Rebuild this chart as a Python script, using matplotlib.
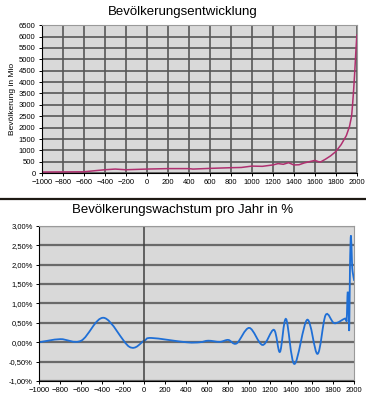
import numpy as np
import matplotlib
matplotlib.use("Agg")
import matplotlib.pyplot as plt
from matplotlib.path import Path
from matplotlib.patches import PathPatch
from matplotlib.lines import Line2D
from matplotlib.ticker import FuncFormatter

plt.rcParams['font.family'] = ['Liberation Sans', 'DejaVu Sans']

# population in millions
pop_years = [-1000, -600, -400, -300, -200, 0, 200, 400, 440, 600, 800, 900,
             1000, 1100, 1200, 1250, 1300, 1350, 1400, 1450, 1500, 1600,
             1650, 1700, 1750, 1800, 1850, 1900, 1930, 1950, 1960, 1970,
             1980, 1990, 2000]
pop_mio = [50, 60, 150, 180, 150, 180, 200, 200, 180, 210, 240, 250,
           310, 300, 360, 420, 390, 460, 360, 370, 450, 560,
           480, 610, 760, 950, 1250, 1650, 2050, 2500, 3050, 3700,
           4450, 5300, 6060]

# growth per year in %
growth_years = [-1000, -800, -600, -385, -140, 0, 70, 400, 530, 610, 720,
                800, 880, 1000, 1127, 1235, 1292, 1350, 1430, 1552, 1650,
                1727, 1810, 1911, 1927, 1937, 1946, 1952, 1959, 1968, 1978,
                1984, 2000]
growth_pct = [0.0, 0.08, 0.04, 0.63, -0.12, 0.04, 0.11, 0.0, 0.0, 0.04, 0.01,
              0.06, -0.03, 0.37, -0.07, 0.32, -0.25, 0.6, -0.56, 0.58, -0.3,
              0.7, 0.49, 0.61, 0.57, 1.29, 0.92, 0.32, 1.95, 2.75, 2.07,
              1.82, 1.58]

BG = '#d9d9d9'


def smooth_path(xs, ys):
    """catmull-rom through the points, as bezier (like excel smoothed lines)"""
    p = np.column_stack([xs, ys]).astype(float)
    verts = [p[0]]
    codes = [Path.MOVETO]
    n = len(p)
    for i in range(n - 1):
        p0 = p[i - 1] if i > 0 else p[i]
        p3 = p[i + 2] if i + 2 < n else p[i + 1]
        c1 = p[i] + (p[i + 1] - p0) / 6
        c2 = p[i + 1] - (p3 - p[i]) / 6
        verts += [c1, c2, p[i + 1]]
        codes += [Path.CURVE4] * 3
    return Path(verts, codes)


def style_axes(ax):
    for sp in ['top', 'right']:
        ax.spines[sp].set_color('#9a9a9a')
        ax.spines[sp].set_linewidth(0.8)
    for sp in ['left', 'bottom']:
        ax.spines[sp].set_linewidth(0.8)
    ax.tick_params(labelsize=5.5, length=2.5, width=0.7, pad=2)


fig = plt.figure(figsize=(3.66, 3.99), dpi=100)

### top: population
ax1 = fig.add_axes([0.114, 0.566, 0.861, 0.371])
ax1.set_facecolor(BG)
ax1.plot(pop_years, pop_mio, color='#b03070', lw=1.1)
ax1.set_xlim(-1000, 2000)
ax1.set_ylim(0, 6500)
ax1.set_xticks(range(-1000, 2001, 200))
ax1.set_yticks(range(0, 6501, 500))
ax1.grid(True, color='#585858', lw=1.2)
ax1.set_axisbelow(True)
ax1.set_ylabel("Bevölkerung in Mio", fontsize=6, labelpad=2)
style_axes(ax1)

### bottom: growth rate
ax2 = fig.add_axes([0.107, 0.045, 0.861, 0.389])
ax2.set_facecolor(BG)
ax2.add_patch(PathPatch(smooth_path(growth_years, growth_pct),
                        facecolor='none', edgecolor='#1f6fd6', lw=1.3))
ax2.set_xlim(-1000, 2000)
ax2.set_ylim(-1.0, 3.0)
ax2.set_xticks(range(-1000, 2001, 200))
ax2.set_yticks(np.arange(-1.0, 3.01, 0.5))
ax2.yaxis.set_major_formatter(
    FuncFormatter(lambda v, pos: f"{v:.2f}%".replace('.', ',')))
ax2.grid(True, axis='y', color='#6a6a6a', lw=1.6)
ax2.set_axisbelow(True)
ax2.axvline(0, color='#404040', lw=1.1, zorder=1)
style_axes(ax2)

fig.text(0.5, 0.970, "Bevölkerungsentwicklung", ha='center', va='center',
         fontsize=9.5)
fig.text(0.5, 0.474, "Bevölkerungswachstum pro Jahr in %", ha='center',
         va='center', fontsize=9.5)
fig.add_artist(Line2D([0, 1], [0.501, 0.501], transform=fig.transFigure,
                      color='#1e1a14', lw=1.6))

fig.savefig("out.png", dpi=100)
